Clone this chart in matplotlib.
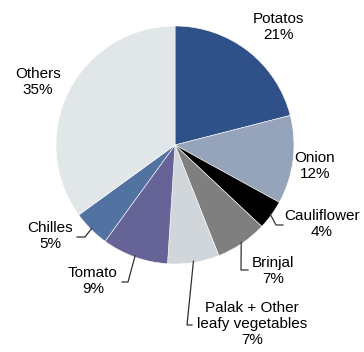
import numpy as np
import matplotlib
matplotlib.use("Agg")
import matplotlib.pyplot as plt

plt.rcParams['font.family'] = ['Liberation Sans', 'DejaVu Sans']

# share of vegetable output, clockwise from 12 o'clock
crops = ['Potatos', 'Onion', 'Cauliflower', 'Brinjal',
         'Palak + Other\nleafy vegetables', 'Tomato', 'Chilles', 'Others']
shares = [21, 12, 4, 7, 7, 9, 5, 35]
colours = ['#30508A', '#95A3BB', '#000000', '#7F7F7F',
           '#D0D6D9', '#666397', '#5272A2', '#E1E7E8']

W, H = 364, 352
cx, cy, r = 175, 145, 119   # pie centre / radius in pixels

fig = plt.figure(figsize=(W / 100, H / 100), dpi=100)
ax = fig.add_axes([(cx - r) / W, (H - cy - r) / H, 2 * r / W, 2 * r / H])

wedges, _ = ax.pie(shares, colors=colours, startangle=90, counterclock=False,
                   radius=1, wedgeprops=dict(edgecolor='white', linewidth=0.4))
# pie() resets the limits to +-1.25, pull them back in
ax.set_xlim(-1, 1)
ax.set_ylim(-1, 1)
ax.axis('off')


def px(x, y):
    # pixel position -> data coords of the pie axes
    return (x - cx) / r, (cy - y) / r


# label centre (px) and optional leader elbow / end (px)
label_pos = [(278, 27), (315, 166), (322, 224), (273, 271),
             (252, 324), (93, 281), (50, 236), (38, 82)]
leaders = {
    2: [(276, 225), (283, 225)],
    3: [(241, 270), (248, 270)],
    4: [(187, 325), (192, 325)],
    5: [(128, 282), (122, 282)],
    6: [(85, 237), (77, 237)],
}

for i, (name, val) in enumerate(zip(crops, shares)):
    x, y = px(*label_pos[i])
    ax.text(x, y, f'{name}\n{val}%', ha='center', va='center',
            fontsize=11, color='black', linespacing=1.2, clip_on=False)
    if i in leaders:
        w = wedges[i]
        mid = np.deg2rad((w.theta1 + w.theta2) / 2)
        pts = [(0.99 * np.cos(mid), 0.99 * np.sin(mid))]
        pts += [px(*p) for p in leaders[i]]
        xs, ys = zip(*pts)
        ax.plot(xs, ys, color='#303030', lw=0.9, clip_on=False)

fig.savefig('out.png', dpi=100)
